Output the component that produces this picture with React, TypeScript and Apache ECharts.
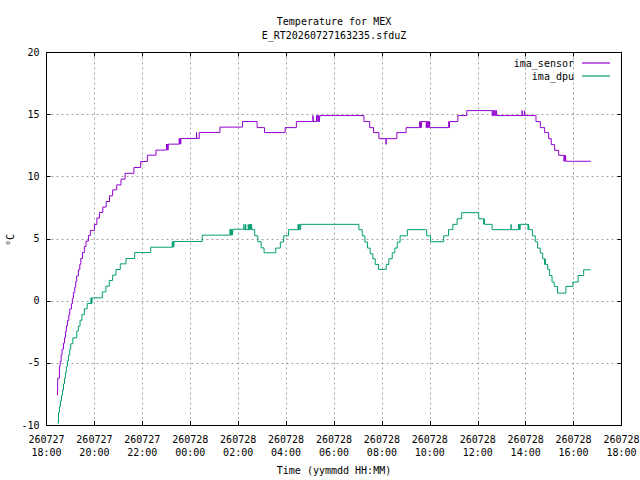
import React, { useEffect, useRef } from "react";
import * as echarts from "echarts";

// Hours elapsed since 260727 18:00, temperature in °C (change points of a step trace)
const imaSensor: [number, number][] = [
  [0.46, -7.6], [0.47, -6.23], [0.54, -5.29], [0.57, -4.89], [0.61, -4.35], [0.65, -3.89],
  [0.71, -3.41], [0.75, -2.98], [0.79, -2.47], [0.83, -2.01], [0.875, -1.58], [0.93, -1.13],
  [0.97, -0.67], [1.04, -0.24], [1.08, 0.21], [1.125, 0.67], [1.18, 1.1], [1.22, 1.56],
  [1.26, 2.01], [1.33, 2.5], [1.39, 2.95], [1.43, 3.41], [1.5, 3.89], [1.58, 4.38],
  [1.65, 4.81], [1.75, 5.26], [1.83, 5.67], [2.0, 6.15], [2.1, 6.66], [2.21, 7.12],
  [2.35, 7.55], [2.49, 8.0], [2.63, 8.46], [2.76, 8.94], [2.93, 9.34], [3.11, 9.8],
  [3.28, 10.27], [3.65, 10.74], [3.93, 11.22], [4.21, 11.73], [4.57, 12.14],
  [5.01, 12.62], [5.03, 12.14], [5.05, 12.62], [5.07, 12.14], [5.09, 12.62],
  [5.54, 13.08], [5.56, 12.62], [5.58, 13.08], [5.6, 12.62], [5.62, 13.08],
  [6.26, 13.56], [6.27, 13.08], [6.375, 13.56], [7.24, 13.99], [8.18, 14.44],
  [8.79, 13.95], [9.1, 13.55], [9.96, 13.95], [10.43, 14.44],
  [11.12, 14.92], [11.135, 14.44], [11.27, 14.92], [11.29, 14.44], [11.31, 14.92],
  [11.34, 14.44], [11.37, 14.92], [11.39, 14.44], [11.41, 14.92],
  [13.25, 14.44], [13.49, 13.95], [13.65, 13.55], [13.875, 13.06],
  [14.17, 12.6], [14.185, 13.06], [14.625, 13.55], [15.01, 13.95],
  [15.58, 14.44], [15.6, 13.95], [15.62, 14.44], [15.64, 13.95], [15.66, 14.44],
  [15.85, 13.95], [15.87, 14.44], [15.9, 13.95], [15.93, 14.44], [15.96, 13.95], [15.98, 14.44],
  [16.0, 13.95], [16.79, 14.44], [16.81, 13.95], [16.83, 14.44],
  [17.17, 14.92], [17.54, 15.32],
  [18.6, 14.92], [18.63, 15.32], [18.66, 14.92], [18.69, 15.32], [18.72, 14.92], [18.75, 15.32], [18.78, 14.92],
  [19.85, 15.32], [19.86, 14.92], [19.95, 15.32], [19.96, 14.92],
  [20.43, 14.44], [20.61, 13.95], [20.79, 13.55], [20.96, 13.06], [21.07, 12.58],
  [21.21, 12.12], [21.375, 11.72], [21.6, 11.24], [21.62, 11.72], [21.64, 11.24],
  [21.66, 11.72], [21.68, 11.24], [22.72, 11.24],
];

const imaDpu: [number, number][] = [
  [0.46, -9.85], [0.5, -9.0], [0.54, -8.51], [0.58, -8.06], [0.625, -7.6], [0.67, -7.17],
  [0.71, -6.69], [0.75, -6.23], [0.79, -5.77], [0.83, -5.29], [0.875, -4.83], [0.92, -4.38],
  [0.97, -3.89], [1.01, -3.46], [1.1, -2.98], [1.26, -2.44], [1.33, -2.04], [1.4, -1.56],
  [1.48, -1.1], [1.58, -0.64], [1.7, -0.21], [1.86, 0.24], [1.87, -0.21], [1.88, 0.24],
  [1.89, -0.21], [1.9, 0.24], [2.33, 0.72], [2.48, 1.18], [2.62, 1.64], [2.76, 2.07],
  [2.9, 2.52], [3.08, 2.98], [3.32, 3.41], [3.68, 3.89], [4.35, 4.32],
  [5.25, 4.78], [5.27, 4.32], [5.29, 4.78], [5.31, 4.32], [5.33, 4.78],
  [6.5, 5.29], [7.66, 5.77], [7.68, 5.29], [7.7, 5.77], [7.72, 5.29], [7.74, 5.77], [7.76, 5.29], [7.78, 5.77],
  [8.24, 6.16], [8.25, 5.73], [8.31, 6.16], [8.32, 5.73], [8.42, 6.16], [8.43, 5.73],
  [8.48, 6.16], [8.5, 5.73], [8.52, 6.16], [8.54, 5.73], [8.56, 6.16], [8.57, 5.73],
  [8.69, 5.24], [8.82, 4.76], [8.96, 4.27], [9.08, 3.87], [9.57, 4.25], [9.76, 4.73],
  [9.9, 5.24], [10.1, 5.73], [10.5, 6.16], [10.52, 5.73], [10.55, 6.16], [10.58, 5.73], [10.61, 6.16],
  [13.04, 5.73], [13.18, 5.24], [13.29, 4.73], [13.4, 4.25], [13.51, 3.79], [13.62, 3.39],
  [13.72, 2.93], [13.86, 2.53], [14.18, 2.93], [14.29, 3.39], [14.43, 3.87], [14.54, 4.25],
  [14.64, 4.73], [14.76, 5.24], [15.06, 5.73], [15.87, 5.24], [16.03, 4.76], [16.58, 5.24],
  [16.78, 5.73], [16.96, 6.16], [17.14, 6.61], [17.33, 7.1], [18.04, 6.61],
  [18.25, 6.16], [18.27, 6.61], [18.29, 6.16], [18.6, 5.73], [19.39, 6.16], [19.4, 5.73],
  [19.7, 6.16], [19.72, 5.73], [19.74, 6.16], [19.76, 5.73], [19.78, 6.16],
  [20.1, 5.73], [20.12, 6.16], [20.14, 5.73], [20.28, 5.24], [20.4, 4.76], [20.5, 4.25],
  [20.61, 3.84], [20.71, 3.39], [20.79, 2.93], [20.81, 3.39], [20.83, 2.93], [20.92, 2.53],
  [21.0, 2.04], [21.1, 1.51], [21.19, 1.16], [21.33, 0.62], [21.68, 1.16], [21.97, 1.51],
  [22.19, 2.04], [22.42, 2.5], [22.72, 2.5],
];

const xTickLabels = [
  "260727\n18:00", "260727\n20:00", "260727\n22:00", "260728\n00:00", "260728\n02:00",
  "260728\n04:00", "260728\n06:00", "260728\n08:00", "260728\n10:00", "260728\n12:00",
  "260728\n14:00", "260728\n16:00", "260728\n18:00",
];

const titleLines = ["Temperature for MEX", "E_RT20260727163235.sfduZ"];
const xName = "Time (yymmdd HH:MM)";
const yName = "°C";
const seriesNames = ["ima_sensor", "ima_dpu"];
const seriesColors = ["#9400d3", "#009e73"];

const FONT = "'DejaVu Sans Mono', 'Liberation Mono', monospace";

export default function App() {
  const ref = useRef<HTMLDivElement>(null);
  useEffect(() => {
    if (!ref.current) return;
    const chart = echarts.init(ref.current, undefined, { renderer: "svg" });
    const gridLeft = 46.5;
    const gridRight = 18.5;
    const gridTop = 52.5;
    const gridBottom = 55;
    const split = {
      show: true,
      showMinLine: false,
      showMaxLine: false,
      lineStyle: { color: "#a0a0a0", type: [2, 3] as any, width: 1 },
    };
    const axisLine = { show: true, onZero: false, lineStyle: { color: "#000", width: 1 } };
    const tick = { show: true, inside: true, length: 4, lineStyle: { color: "#000", width: 1 } };
    const legendBase = {
      orient: "vertical",
      right: 30,
      align: "right",
      icon: "path://M0,0L28,0L28,1.2L0,1.2Z",
      itemWidth: 28,
      itemHeight: 10,
      itemGap: 3,
      padding: 0,
      selectedMode: false,
      textStyle: { fontFamily: FONT, fontSize: 10, color: "#000", lineHeight: 10, padding: [0, 3, 0, 0] },
    };
    chart.setOption({
      animation: false,
      backgroundColor: "#fff",
      grid: {
        left: gridLeft,
        right: gridRight,
        top: gridTop,
        bottom: gridBottom,
        containLabel: false,
        outerBoundsMode: "none",
      },
      legend: [
        { ...legendBase, top: 58, data: [seriesNames[0]] },
        { ...legendBase, top: 71, data: [seriesNames[1]] },
      ],
      xAxis: [
        {
          type: "value",
          position: "bottom",
          min: 0,
          max: 24,
          interval: 2,
          axisLine,
          axisTick: tick,
          splitLine: split,
          axisLabel: {
            interval: 0,
            hideOverlap: false,
            showMinLabel: true,
            showMaxLabel: true,
            margin: 8,
            fontFamily: FONT,
            fontSize: 10,
            lineHeight: 13,
            color: "#000",
            formatter: (v: number) => xTickLabels[Math.round(v / 2)] ?? "",
          },
        },
        {
          type: "value",
          position: "top",
          min: 0,
          max: 24,
          interval: 2,
          axisLine,
          axisTick: tick,
          splitLine: { show: false },
          axisLabel: { show: false },
        },
      ],
      yAxis: [
        {
          type: "value",
          position: "left",
          min: -10,
          max: 20,
          interval: 5,
          axisLine,
          axisTick: tick,
          splitLine: split,
          axisLabel: {
            margin: 7,
            fontFamily: FONT,
            fontSize: 10,
            color: "#000",
            showMinLabel: true,
            showMaxLabel: true,
          },
        },
        {
          type: "value",
          position: "right",
          min: -10,
          max: 20,
          interval: 5,
          axisLine,
          axisTick: tick,
          splitLine: { show: false },
          axisLabel: { show: false },
        },
      ],
      series: [
        {
          name: seriesNames[0],
          type: "line",
          step: "end",
          symbol: "none",
          xAxisIndex: 0,
          yAxisIndex: 0,
          color: seriesColors[0],
          lineStyle: { color: seriesColors[0], width: 1 },
          data: imaSensor,
          z: 3,
        },
        {
          name: seriesNames[1],
          type: "line",
          step: "end",
          symbol: "none",
          xAxisIndex: 0,
          yAxisIndex: 0,
          color: seriesColors[1],
          lineStyle: { color: seriesColors[1], width: 1 },
          data: imaDpu,
          z: 3,
        },
      ],
      graphic: [
        {
          type: "text",
          x: 334,
          y: 21,
          style: {
            text: titleLines[0],
            fontFamily: FONT,
            fontSize: 10,
            fill: "#000",
            align: "center",
            verticalAlign: "middle",
          },
        },
        {
          type: "text",
          x: 334,
          y: 35,
          style: {
            text: titleLines[1],
            fontFamily: FONT,
            fontSize: 10,
            fill: "#000",
            align: "center",
            verticalAlign: "middle",
          },
        },
        {
          type: "text",
          x: 334,
          y: 470.5,
          style: {
            text: xName,
            fontFamily: FONT,
            fontSize: 10,
            fill: "#000",
            align: "center",
            verticalAlign: "middle",
          },
        },
        {
          type: "text",
          x: 10,
          y: 240,
          rotation: Math.PI / 2,
          style: {
            text: yName,
            fontFamily: FONT,
            fontSize: 10,
            fill: "#000",
            align: "center",
            verticalAlign: "middle",
          },
        },
      ],
    });
    return () => chart.dispose();
  }, []);
  return (
    <div
      ref={ref}
      style={{ position: "fixed", left: 0, top: 0, width: 640, height: 480, background: "#fff" }}
    />
  );
}
